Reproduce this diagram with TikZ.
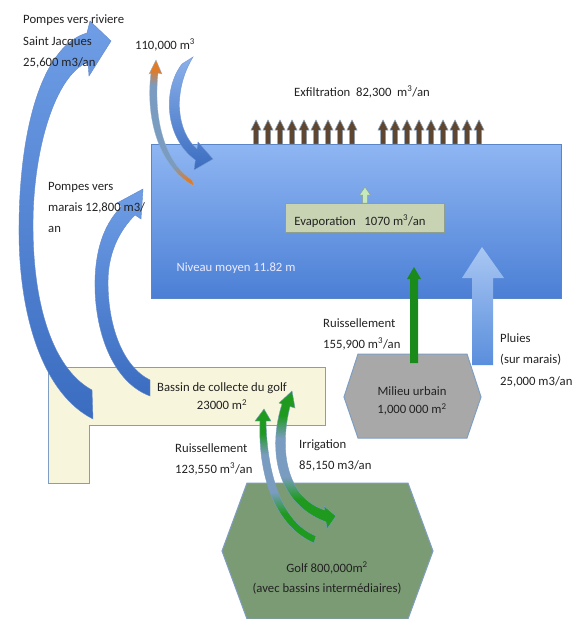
\documentclass[tikz,border=0pt]{standalone}
\usepackage{fontspec}
\setmainfont{Carlito}
\definecolor{marshtop}{HTML}{8FB6F3}
\definecolor{marshbot}{HTML}{4B7FD5}
\definecolor{marshedge}{HTML}{5A86C8}
\definecolor{arctop}{HTML}{6F9EE6}
\definecolor{arcbot}{HTML}{3A6CC0}
\definecolor{brownarr}{HTML}{5E4630}
\definecolor{brownedge}{HTML}{8AA0B8}
\definecolor{evapfill}{HTML}{C8D3B3}
\definecolor{evapedge}{HTML}{8F9F8F}
\definecolor{bassinfill}{HTML}{F7F5DC}
\definecolor{shapeedge}{HTML}{7F9EC2}
\definecolor{urbfill}{HTML}{A8A8A8}
\definecolor{golffill}{HTML}{7B9B74}
\definecolor{urbgreen}{HTML}{1A8A1A}
\definecolor{arrgreen}{HTML}{1F9A1F}
\definecolor{steel}{HTML}{7A9CC0}
\definecolor{orangearr}{HTML}{E07B28}
\definecolor{pluietop}{HTML}{A9C7F3}
\definecolor{pluiebot}{HTML}{5A8EDC}
\definecolor{txt}{HTML}{222222}
\pgfdeclareverticalshading{greenends}{100bp}{color(0bp)=(arrgreen); color(36bp)=(arrgreen); color(44bp)=(steel); color(58bp)=(steel); color(66bp)=(arrgreen); color(100bp)=(arrgreen)}
\pgfdeclareverticalshading{orangeends}{100bp}{color(0bp)=(orangearr); color(27bp)=(orangearr); color(33bp)=(steel); color(65bp)=(steel); color(71bp)=(orangearr); color(100bp)=(orangearr)}
\begin{document}
\begin{tikzpicture}[x=1pt,y=-1pt,
  lbl/.style={font=\fontsize{12.7}{21}\selectfont, inner sep=0pt, align=left, text=txt},
  clbl/.style={font=\fontsize{12.7}{18.5}\selectfont, inner sep=0pt, align=center, text=txt},
  bigarc/.style={top color=arctop, bottom color=arcbot, draw=arcbot!80!white, line width=0.4pt},
  smallarc/.style={top color=arctop!80!white, bottom color=arcbot, draw=arcbot!70!white, line width=0.4pt},
  orangearc/.style={shading=orangeends, draw=steel!80!white, line width=0.3pt},
  greenarc/.style={shading=greenends, draw=steel, line width=0.4pt},
  exf/.style={fill=brownarr, draw=brownedge, line width=0.5pt},
  region/.style={draw=shapeedge, line width=1pt}]
\useasboundingbox[fill=white] (0,0) rectangle (580,619);

% marsh
\path[draw=marshedge, line width=0.8pt, top color=marshtop, bottom color=marshbot] (151,144) rectangle (561,298);

% exfiltration arrows
\foreach \x in {256,268,...,352}
  \path[exf] ({\x-2.5},144) -- ({\x-2.5},130) -- ({\x-5},130) -- (\x,120) -- ({\x+5},130) -- ({\x+2.5},130) -- ({\x+2.5},144) -- cycle;
\foreach \x in {383,395,...,479}
  \path[exf] ({\x-2.5},144) -- ({\x-2.5},130) -- ({\x-5},130) -- (\x,120) -- ({\x+5},130) -- ({\x+2.5},130) -- ({\x+2.5},144) -- cycle;
\node[lbl, anchor=center] (exfil) at (362,92) {Exfiltration\ \ 82,300\ \ m\textsuperscript{3}/an};

% evaporation
\path[fill=evapfill, draw=evapedge, line width=0.8pt] (285,203) rectangle (444,232);
\path[fill=evapfill!80!green!60!white, draw=evapedge, line width=0.5pt] (362.5,203) -- (362.5,195) -- (359.5,195) -- (365,187) -- (370.5,195) -- (367.5,195) -- (367.5,203) -- cycle;
\node[lbl, anchor=center] (evap) at (360,221) {Evaporation\ \ \ 1070 m\textsuperscript{3}/an};

\node[lbl, anchor=center, text=white!92!blue] (niveau) at (236,268) {Niveau moyen 11.82 m};

% 110,000 arrows
\path[smallarc] (193,57) -- (182,64) .. controls (162,90) and (165,138) .. (195.4,160) -- (194,170) -- (213,159) -- (198,142) -- (197,149) .. controls (177,132) and (172,92) .. (193,57) -- cycle;
\path[orangearc] (151,73) .. controls (145,120) and (160,168) .. (194,186) -- (192,180) .. controls (166,163) and (153,122) .. (158,73) -- (162,74) -- (156,60) -- (149,74) -- cycle;
\node[lbl, anchor=center] (vol) at (165,45) {110,000 m\textsuperscript{3}};

% bassin
\path[region, fill=bassinfill] (48,367) -- (325,367) -- (325,425) -- (89,425) -- (89,483) -- (48,483) -- cycle;

% big arcs
\path[bigarc] (92,390) -- (93,419) .. controls (45,395) and (18,320) .. (19,225) .. controls (20,120) and (45,45) .. (87,33) -- (90,21) -- (111,41) -- (89,76) -- (88,62) .. controls (55,75) and (33,150) .. (33,225) .. controls (33,310) and (55,370) .. (92,390) -- cycle;
\path[bigarc] (150,380) -- (150,396) .. controls (112,382) and (94,330) .. (95,280) .. controls (96,245) and (106,222) .. (122,206) -- (117,203) -- (143,189) -- (141,219) -- (135,215) .. controls (118,232) and (108,255) .. (108,282) .. controls (108,325) and (122,366) .. (150,380) -- cycle;

\node[lbl, anchor=north west, font=\fontsize{12.7}{21.5}\selectfont] (riviere) at (23,15) {Pompes vers riviere\\Saint Jacques\\25,600 m3/an};
\node[lbl, anchor=north west] (marais) at (48,182) {Pompes vers\\marais 12,800 m3/\\an};
\node[clbl, anchor=center] (bassin) at (222,396) {Bassin de collecte du golf\\23000 m\textsuperscript{2}};

% milieu urbain
\path[region, fill=urbfill] (358,354) -- (467,354) -- (481,397) -- (467,438) -- (358,438) -- (344,397) -- cycle;
\node[clbl, anchor=center] (urbain) at (412,401) {Milieu urbain\\1,000 000 m\textsuperscript{2}};
\fill[urbgreen] (410,363) -- (410,279) -- (407,279) -- (414,267) -- (421,279) -- (418,279) -- (418,363) -- cycle;
\node[lbl, anchor=north west] (ruisurb) at (323,318) {Ruissellement\\155,900 m\textsuperscript{3}/an};

% pluies
\path[top color=pluietop, bottom color=pluiebot] (472,365) -- (472,278) -- (462,278) -- (482,247) -- (504,278) -- (493,278) -- (493,365) -- cycle;
\node[lbl, anchor=north west, font=\fontsize{12.7}{21.5}\selectfont] (pluies) at (500,333) {Pluies\\(sur marais)\\25,000 m3/an};

% golf
\path[region, fill=golffill] (247,483) -- (408,483) -- (433,551) -- (408,619) -- (247,619) -- (222,551) -- cycle;
\node[clbl, anchor=center, font=\fontsize{12.7}{20}\selectfont] (golf) at (327,578) {Golf 800,000m\textsuperscript{2}\\(avec bassins intermédiaires)};

% golf arrows
\path[greenarc] (266,421) .. controls (267,475) and (282,522) .. (316,536) -- (314,543) .. controls (272,525) and (258,470) .. (260,421) -- (255,421) -- (264,409) -- (271,421) -- cycle;
\path[greenarc] (282,404) .. controls (268,448) and (275,503) .. (326,522) -- (327,529) -- (336,516) -- (324,506) -- (324.5,510) .. controls (286,497) and (279,450) .. (290,406.5) -- (295,408) -- (292,391) -- (279,403) -- cycle;

\node[lbl, anchor=north west] (ruisgolf) at (175,443) {Ruissellement\\123,550 m\textsuperscript{3}/an};
\node[lbl, anchor=north west] (irrig) at (299,440) {Irrigation\\85,150 m3/an};
\end{tikzpicture}
\end{document}
